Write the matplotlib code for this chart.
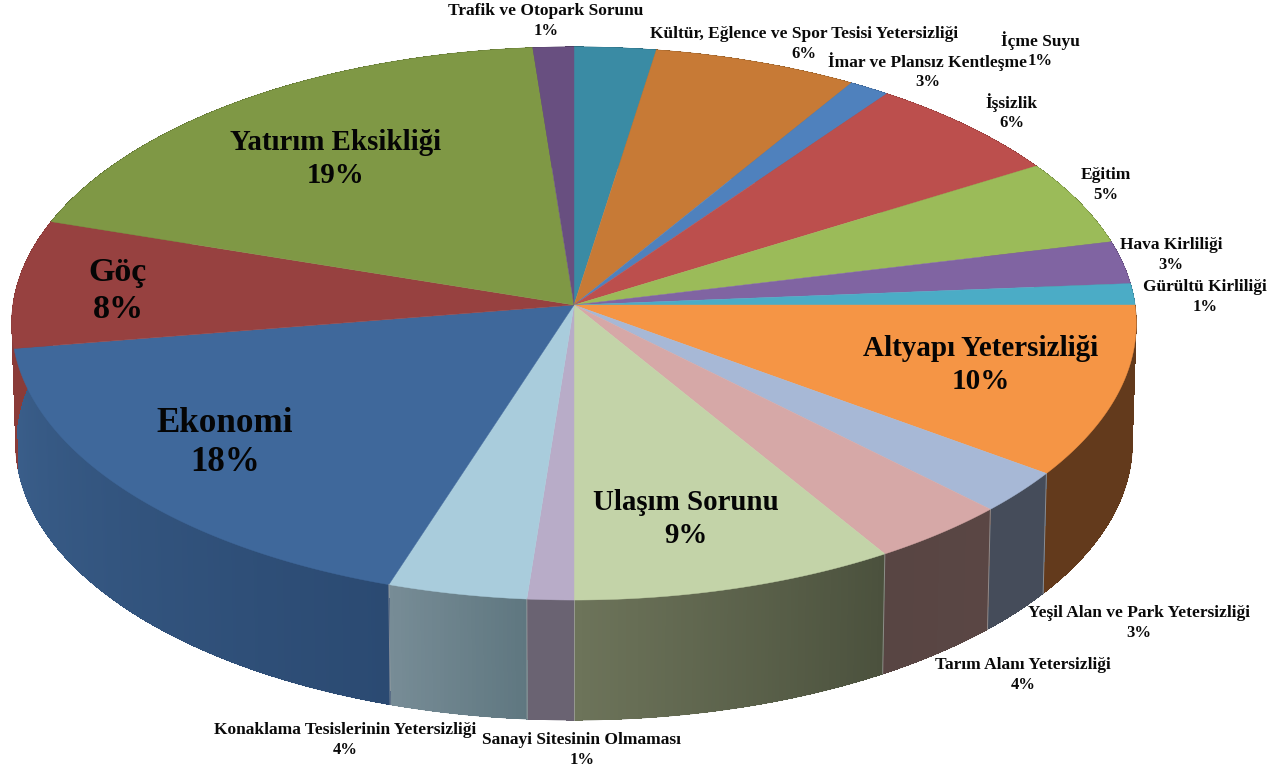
import matplotlib
matplotlib.use('Agg')
import matplotlib.pyplot as plt
from matplotlib.collections import PolyCollection
from matplotlib.colors import to_rgb
from matplotlib.patches import Polygon
import numpy as np

# Data: clockwise from 12 o'clock, counts out of 80
counts = [2, 5, 1, 5, 4, 2, 1, 8, 2, 3, 7, 1, 3, 14, 6, 15, 1]
top_colors = ['#3A8BA4', '#C77A36', '#4F81BD', '#BC4F4D', '#9BBB59', '#8064A2', '#4BACC6',
              '#F59545', '#A7B8D6', '#D6A8A7', '#C3D3A8', '#B8ACC8', '#A9CCDC',
              '#3F689B', '#974140', '#7F9845', '#684F80']
wall_start = ['#2A6577', '#8A5A28', '#3A5E8A', '#8A3B38', '#71883F', '#5D4876', '#367D90',
              '#633A1C', '#454C5A', '#5A4644', '#4B513D', '#6A6372', '#5F7780',
              '#2B4A72', '#8A3B38', '#5C6E32', '#4B395C']
wall_end = ['#2A6577', '#8A5A28', '#3A5E8A', '#8A3B38', '#71883F', '#5D4876', '#367D90',
            '#633A1C', '#454C5A', '#584543', '#6D745A', '#6A6372', '#778C96',
            '#3A5E8A', '#8A3B38', '#5C6E32', '#4B395C']

small_labels = ['Trafik ve Otopark Sorunu\n1%', 'Kültür, Eğlence ve Spor Tesisi Yetersizliği\n6%',
                'İçme Suyu\n1%', 'İmar ve Plansız Kentleşme\n3%', 'İşsizlik\n6%', 'Eğitim\n5%',
                'Hava Kirliliği\n3%', 'Gürültü Kirliliği\n1%', 'Yeşil Alan ve Park Yetersizliği\n3%',
                'Tarım Alanı Yetersizliği\n4%', 'Sanayi Sitesinin Olmaması\n1%',
                'Konaklama Tesislerinin Yetersizliği\n4%']
small_x = [546, 804, 1040, 928, 1012, 1106, 1171, 1205, 1139, 1023, 582, 345]
small_y = [21, 44, 51, 72, 113, 185, 255, 297, 623, 675, 750, 740]

big_labels = ['Yatırım Eksikliği\n19%', 'Göç\n8%', 'Ekonomi\n18%', 'Altyapı Yetersizliği\n10%',
              'Ulaşım Sorunu\n9%']
big_x = [336, 118, 225, 981, 686]
big_y = [159, 291, 443, 365, 519]
big_size = [20.8, 24.5, 25.2, 21, 20.8]

# Pie geometry in pixels
cx, cy = 574, 305
rx, ry = 561, 275.3
persp = 0.0669
depth = 120
shrink = 0.993

fractions = np.cumsum([0] + counts) / np.sum(counts)
angles = fractions * 2 * np.pi


def project(t):
    w = 1 + persp * np.cos(t)
    return rx * np.sin(t) / w, ry * np.cos(t) / w


fig = plt.figure(figsize=(12.71, 7.7), dpi=100)
ax = fig.add_axes([0, 0, 1, 1])
ax.set_xlim(0, 1271)
ax.set_ylim(770, 0)
ax.axis('off')

# Side walls: a smooth base shape, then thin quads for the gradient
quads, quad_colors = [], []
for i in range(len(counts)):
    ts = np.linspace(angles[i], angles[i + 1], max(counts[i] * 12, 12))
    xs, ys = project(ts)
    c0, c1 = np.array(to_rgb(wall_start[i])), np.array(to_rgb(wall_end[i]))
    outline = np.r_[np.column_stack([cx + xs, cy - ys]),
                    np.column_stack([cx + xs[::-1] * shrink, cy - ys[::-1] + depth])]
    ax.add_patch(Polygon(outline, closed=True, facecolor=(c0 + c1) / 2, edgecolor=(c0 + c1) / 2, lw=0.5))
    for j in range(len(ts) - 1):
        quads.append([(cx + xs[j], cy - ys[j]), (cx + xs[j + 1], cy - ys[j + 1]),
                      (cx + xs[j + 1] * shrink, cy - ys[j + 1] + depth),
                      (cx + xs[j] * shrink, cy - ys[j] + depth)])
        quad_colors.append(c0 + (c1 - c0) * j / (len(ts) - 2))
ax.add_collection(PolyCollection(quads, facecolors=quad_colors, edgecolors='none', antialiaseds=False))

# Pale seams between the front walls
for a in angles:
    if np.pi * 0.6 < a < np.pi * 1.2:
        x, y = project(a)
        ax.plot([cx + x, cx + x * shrink], [cy - y, cy - y + depth], color='#A9A9A9', lw=0.7, alpha=0.7)

# Top faces
for i in range(len(counts)):
    ts = np.linspace(angles[i], angles[i + 1], max(counts[i] * 12, 12))
    xs, ys = project(ts)
    pts = np.column_stack([np.r_[cx, cx + xs], np.r_[cy, cy - ys]])
    ax.add_patch(Polygon(pts, closed=True, facecolor=top_colors[i], edgecolor=top_colors[i], lw=0.3))

# Name and percent drawn apart, the small labels sit tight against each other
for label, x, y in zip(small_labels, small_x, small_y):
    name, pct = label.split('\n')
    ax.text(x, y - 10, name, ha='center', va='center', family='Liberation Serif', weight='bold',
            fontsize=12.5, color='#0A0A0A')
    ax.text(x, y + 10, pct, ha='center', va='center', family='Liberation Serif', weight='bold',
            fontsize=12, color='#0A0A0A')
for label, x, y, size in zip(big_labels, big_x, big_y, big_size):
    ax.text(x, y, label, ha='center', va='center', family='Liberation Serif', weight='bold',
            fontsize=size, linespacing=1.27, color='#050505')

plt.savefig('out.png', dpi=100)
